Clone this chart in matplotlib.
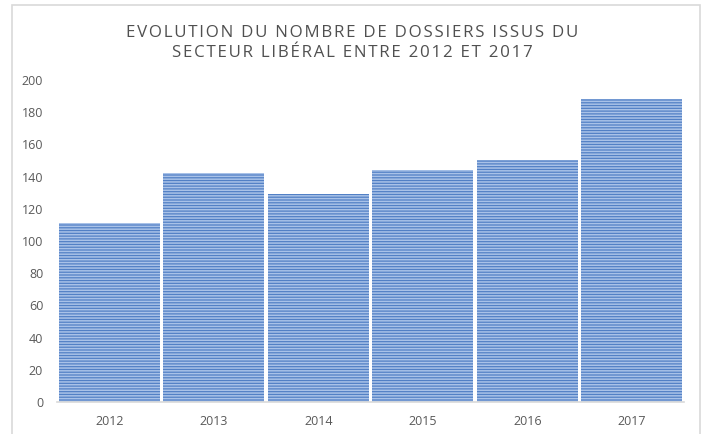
import matplotlib.pyplot as plt
from matplotlib.patches import Rectangle

# Data
annees = ["2012", "2013", "2014", "2015", "2016", "2017"]
dossiers = [111, 142, 129, 144, 150, 188]
yticks = [0, 20, 40, 60, 80, 100, 120, 140, 160, 180, 200]

plt.rcParams['font.family'] = ['Open Sans', 'DejaVu Sans']
plt.rcParams['hatch.linewidth'] = 1.1
gris = '#595959'

fig = plt.figure(figsize=(7.04, 4.34), dpi=100)
ax = fig.add_axes([0.081, 0.0737, 0.8906, 0.742])

x = range(len(annees))
ax.bar(x, dossiers, width=0.97, color='#5280c5', edgecolor='#a9c2e8',
       linewidth=0, hatch='------')

ax.set_xlim(-0.5, 5.5)
ax.set_ylim(0, 200)
ax.set_xticks(list(x))
ax.set_xticklabels(annees)
ax.set_yticks(yticks)
ax.tick_params(length=0, colors=gris, labelsize=9)
ax.tick_params(axis='x', pad=9)
ax.tick_params(axis='y', pad=10)
for s in ['left', 'right', 'top']:
    ax.spines[s].set_visible(False)
ax.spines['bottom'].set_color('#d9d9d9')
ax.spines['bottom'].set_linewidth(1.2)

titre = "EVOLUTION DU NOMBRE DE DOSSIERS ISSUS DU\nSECTEUR LIBÉRAL ENTRE 2012 ET 2017"
titre = "\u200a".join(titre).replace("\u200a\n\u200a", "\n")
fig.text(0.5, 0.901, titre, ha='center', va='center', fontsize=12.2,
         color='#505050', linespacing=1.35)

# cadre du graphique
fig.patches.append(Rectangle((12 / 704, -0.01), 688 / 704, 1 - 5 / 434 + 0.01,
                             transform=fig.transFigure, fill=False,
                             edgecolor='#d9d9d9', linewidth=1.2))

fig.savefig('out.png', dpi=100)
